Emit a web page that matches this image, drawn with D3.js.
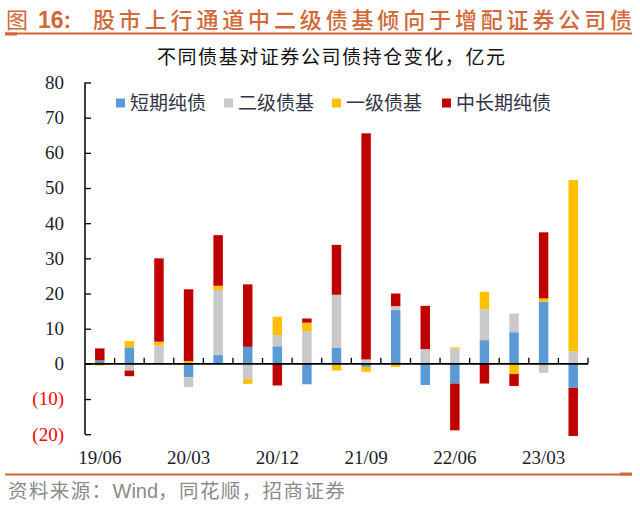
<!DOCTYPE html>
<html><head><meta charset="utf-8">
<script src="https://cdn.jsdelivr.net/npm/d3@7"></script>
<style>
html,body{margin:0;padding:0;background:#fff;}
svg{display:block;}
</style></head>
<body>
<svg id="chart" width="640" height="508"></svg>
<script>
const categories = ["19/06","19/09","19/12","20/03","20/06","20/09","20/12","21/03","21/06","21/09","21/12","22/03","22/06","22/09","22/12","23/03","23/06"];
const seriesNames = ["短期纯债","二级债基","一级债基","中长期纯债"];
const shortPure   = [1.0, 4.7, 0, -3.8, 2.5, 4.85, 5.0, -5.8, 4.65, -0.85, 15.3, -6.0, -5.6, 6.75, 9.0, 17.65, -6.8];
const secondary   = [0, -1.9, 5.2, -2.8, 18.5, -4.35, 3.2, 9.3, 15.0, 1.25, 1.1, 4.2, 4.4, 8.8, 5.3, -2.55, 3.6];
const primary     = [-0.5, 1.75, 1.1, 0.8, 1.2, -1.35, 5.2, 2.4, -1.9, -1.4, -0.85, 0, 0.3, 4.95, -2.9, 0.95, 48.7];
const midLong     = [3.4, -1.6, 23.7, 20.4, 14.4, 17.75, -6.15, 1.2, 14.2, 64.3, 3.6, 12.3, -13.3, -5.6, -3.4, 18.8, -13.7];
const yTickValues = [-20,-10,0,10,20,30,40,50,60,70,80];
const xTickLabels = ["19/06","20/03","20/12","21/09","22/06","23/03"];
const colors = ["#5B9BD5","#C9C9C9","#FFC000","#C00000"];

const svg = d3.select("#chart");
const serifFont = "'Liberation Serif','Times New Roman',serif";
const cjkFont = "'Noto Sans CJK SC','Noto Sans',sans-serif";
const titleColor = "#D0683A";

// Title
svg.append("text").attr("x",6).attr("y",28)
  .attr("font-family",cjkFont).attr("font-size",22).attr("fill",titleColor).text("图");
svg.append("text").attr("x",38).attr("y",28)
  .attr("font-family","'Liberation Sans',Arial,sans-serif").attr("font-weight","bold")
  .attr("font-size",23).attr("fill",titleColor).text("16:");
svg.append("text").attr("x",93).attr("y",28)
  .attr("font-family",cjkFont).attr("font-size",22).attr("font-weight",500).attr("fill",titleColor)
  .attr("textLength",539).attr("lengthAdjust","spacing")
  .text("股市上行通道中二级债基倾向于增配证券公司债");
svg.append("line").attr("x1",5).attr("x2",632).attr("y1",33.5).attr("y2",33.5).attr("stroke",titleColor).attr("stroke-width",2);
svg.append("line").attr("x1",5).attr("x2",17).attr("y1",34).attr("y2",34).attr("stroke",titleColor).attr("stroke-width",3);

// Subtitle
svg.append("text").attr("x",331).attr("y",64).attr("text-anchor","middle")
  .attr("font-family",cjkFont).attr("font-size",19).attr("fill","#111")
  .attr("textLength",348).attr("lengthAdjust","spacing")
  .text("不同债基对证券公司债持仓变化，亿元");

// Scales
const x = d3.scaleBand().domain(categories).range([85,588]).paddingInner(0.68).paddingOuter(0.34);
const y = d3.scaleLinear().domain([-20,80]).range([434.2,82.5]);

// Stack
const rows = categories.map((c,i)=>({cat:c, s0:shortPure[i], s1:secondary[i], s2:primary[i], s3:midLong[i]}));
const stack = d3.stack().keys(["s0","s1","s2","s3"]).offset(d3.stackOffsetDiverging);
const stacked = stack(rows);

svg.append("g").selectAll("g").data(stacked).join("g")
  .attr("fill",(d,i)=>colors[i])
  .selectAll("rect").data(d=>d).join("rect")
  .attr("x",d=>x(d.data.cat))
  .attr("width",x.bandwidth())
  .attr("y",d=>y(Math.max(d[0],d[1])))
  .attr("height",d=>Math.abs(y(d[0])-y(d[1])));

// Y axis
const yAxis = d3.axisRight(y).tickValues(yTickValues).tickSize(6).tickFormat("");
const yg = svg.append("g").attr("transform","translate(85,0)").call(yAxis);
yg.select(".domain").attr("stroke","#000").attr("stroke-width",1.5).attr("d",`M0,${y(80)}V${y(-20)}`);
yg.selectAll(".tick line").attr("stroke","#000").attr("stroke-width",1.3);
svg.append("g").selectAll("text").data(yTickValues).join("text")
  .attr("x",64).attr("y",d=>y(d)).attr("dy","0.34em").attr("text-anchor","end")
  .attr("font-family",serifFont).attr("font-size",19)
  .attr("fill",d=>d<0?"#FF0000":"#1c1c2a")
  .text(d=>d<0?`(${Math.abs(d)})`:d);

// X axis at zero
const bandEdges = categories.map(c=>x(c)-x.step()*x.paddingInner()/2 + x.step());
svg.append("line").attr("x1",85).attr("x2",588).attr("y1",y(0)).attr("y2",y(0)).attr("stroke","#000").attr("stroke-width",1.6);
svg.append("g").selectAll("line").data(bandEdges).join("line")
  .attr("x1",d=>d).attr("x2",d=>d).attr("y1",y(0)).attr("y2",y(0)-6)
  .attr("stroke","#000").attr("stroke-width",1.3);

// X labels
svg.append("g").selectAll("text").data(xTickLabels).join("text")
  .attr("x",d=>x(d)+x.bandwidth()/2).attr("y",464).attr("text-anchor","middle")
  .attr("font-family",serifFont).attr("font-size",19).attr("fill","#1c1c2a")
  .text(d=>d);

// Legend
const legendX = [116,224,332,442];
const lg = svg.append("g").selectAll("g").data(seriesNames).join("g")
  .attr("transform",(d,i)=>`translate(${legendX[i]},103)`);
lg.append("rect").attr("x",0).attr("y",-4.5).attr("width",9).attr("height",9).attr("fill",(d,i)=>colors[i]);
lg.append("text").attr("x",14).attr("y",0).attr("dy","0.36em")
  .attr("font-family",cjkFont).attr("font-size",19).attr("fill","#333344")
  .text(d=>d);

// Bottom line & source
svg.append("line").attr("x1",5).attr("x2",632).attr("y1",474.5).attr("y2",474.5).attr("stroke",titleColor).attr("stroke-width",2);
svg.append("line").attr("x1",620).attr("x2",632).attr("y1",474).attr("y2",474).attr("stroke",titleColor).attr("stroke-width",3);
const src = svg.append("text").attr("x",8).attr("y",498)
  .attr("font-family",cjkFont).attr("font-size",19.5).attr("fill","#8a8a8a");
src.append("tspan").attr("letter-spacing",1.4).text("资料来源：");
src.append("tspan").attr("font-family","'Liberation Sans',Arial,sans-serif").attr("font-size",20).text("Wind");
src.append("tspan").attr("letter-spacing",1.4).text("，同花顺，招商证券");
</script>
</body></html>
